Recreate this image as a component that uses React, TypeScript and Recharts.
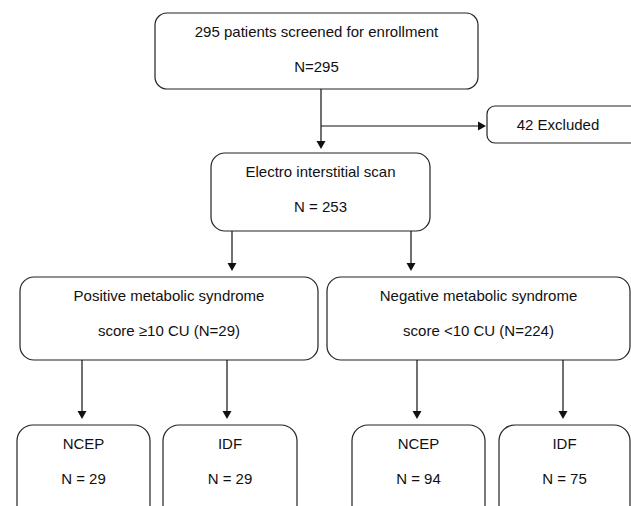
import React from 'react';
import { ScatterChart, XAxis, YAxis, ReferenceArea, ReferenceLine } from 'recharts';

// flow stages: titles and patient counts
const stageTitles = [
  '295 patients screened for enrollment',
  '42 Excluded',
  'Electro interstitial scan',
  'Positive metabolic syndrome',
  'Negative metabolic syndrome',
  'NCEP',
  'IDF',
  'NCEP',
  'IDF',
];
const stageCounts = [295, 42, 253, 29, 224, 29, 29, 94, 75];
const stageSubtitles = [
  `N=${stageCounts[0]}`,
  '',
  `N = ${stageCounts[2]}`,
  `score ≥10 CU (N=${stageCounts[3]})`,
  `score <10 CU (N=${stageCounts[4]})`,
  `N = ${stageCounts[5]}`,
  `N = ${stageCounts[6]}`,
  `N = ${stageCounts[7]}`,
  `N = ${stageCounts[8]}`,
];

// layout (diagram units = pixels of the 631x506 canvas)
const W = 631;
const H = 506;
const boxLayout = [
  { x1: 155, x2: 478, y1: 13, y2: 89, r: 12 },
  { x1: 487, x2: 640, y1: 106, y2: 143, r: 8 },
  { x1: 211, x2: 430, y1: 153, y2: 231, r: 14 },
  { x1: 20, x2: 318, y1: 277, y2: 360, r: 14 },
  { x1: 327, x2: 630, y1: 277, y2: 360, r: 14 },
  { x1: 17, x2: 150, y1: 425, y2: 530, r: 16 },
  { x1: 163, x2: 297, y1: 425, y2: 530, r: 16 },
  { x1: 352, x2: 485, y1: 425, y2: 530, r: 16 },
  { x1: 499, x2: 630, y1: 425, y2: 530, r: 16 },
];
const arrows = [
  { x1: 321, y1: 89, x2: 321, y2: 149 },
  { x1: 321, y1: 126, x2: 486, y2: 126 },
  { x1: 232, y1: 231, x2: 232, y2: 271 },
  { x1: 411, y1: 231, x2: 411, y2: 271 },
  { x1: 82, y1: 360, x2: 82, y2: 419 },
  { x1: 227, y1: 360, x2: 227, y2: 419 },
  { x1: 417, y1: 360, x2: 417, y2: 419 },
  { x1: 563, y1: 360, x2: 563, y2: 419 },
];

const FONT = '"Liberation Sans", Arial, sans-serif';
const FS = 15;

const makeBox = (i: number) => (p: any) => {
  const { x, y, width } = p;
  const b = boxLayout[i];
  const h = p.height;
  const cx = x + width / 2;
  const sub = stageSubtitles[i];
  return (
    <g>
      <rect x={x} y={y} width={width} height={h} rx={b.r} ry={b.r} fill="#fff" stroke="#222" strokeWidth={1.2} />
      {sub ? (
        <>
          <text x={cx} y={y + 18.5} textAnchor="middle" dominantBaseline="central" fontSize={FS} fill="#111" fontFamily={FONT}>
            {stageTitles[i]}
          </text>
          <text x={cx} y={y + 53.5} textAnchor="middle" dominantBaseline="central" fontSize={FS} fill="#111" fontFamily={FONT}>
            {sub}
          </text>
        </>
      ) : (
        <text x={x + 71} y={y + h / 2 - 0.5} textAnchor="middle" dominantBaseline="central" fontSize={FS} fill="#111" fontFamily={FONT}>
          {stageTitles[i]}
        </text>
      )}
    </g>
  );
};

const arrowShape = (p: any) => {
  const { x1, y1, x2, y2 } = p;
  const dx = x2 - x1;
  const dy = y2 - y1;
  const len = Math.sqrt(dx * dx + dy * dy) || 1;
  const ux = dx / len;
  const uy = dy / len;
  const hl = 8;
  const hw = 4.5;
  const bx = x2 - ux * hl;
  const by = y2 - uy * hl;
  const pts = `${x2},${y2} ${bx - uy * hw},${by + ux * hw} ${bx + uy * hw},${by - ux * hw}`;
  return (
    <g>
      <line x1={x1} y1={y1} x2={bx} y2={by} stroke="#111" strokeWidth={1.2} />
      <polygon points={pts} fill="#111" />
    </g>
  );
};

export default function App() {
  return (
    <div style={{ position: 'absolute', left: 0, top: 0, background: '#fff' }}>
      <ScatterChart width={W} height={H} margin={{ top: 0, right: 0, bottom: 0, left: 0 }}>
        <XAxis type="number" dataKey="x" domain={[0, W]} allowDataOverflow hide />
        <YAxis type="number" dataKey="y" domain={[0, H]} allowDataOverflow reversed hide />
        {arrows.map((a, i) => (
          <ReferenceLine
            key={`a${i}`}
            segment={[{ x: a.x1, y: a.y1 }, { x: a.x2, y: a.y2 }]}
            ifOverflow="visible"
            shape={arrowShape}
          />
        ))}
        {boxLayout.map((b, i) => (
          <ReferenceArea
            key={`b${i}`}
            x1={b.x1}
            x2={b.x2}
            y1={b.y1}
            y2={b.y2}
            ifOverflow="visible"
            shape={makeBox(i)}
          />
        ))}
      </ScatterChart>
    </div>
  );
}
